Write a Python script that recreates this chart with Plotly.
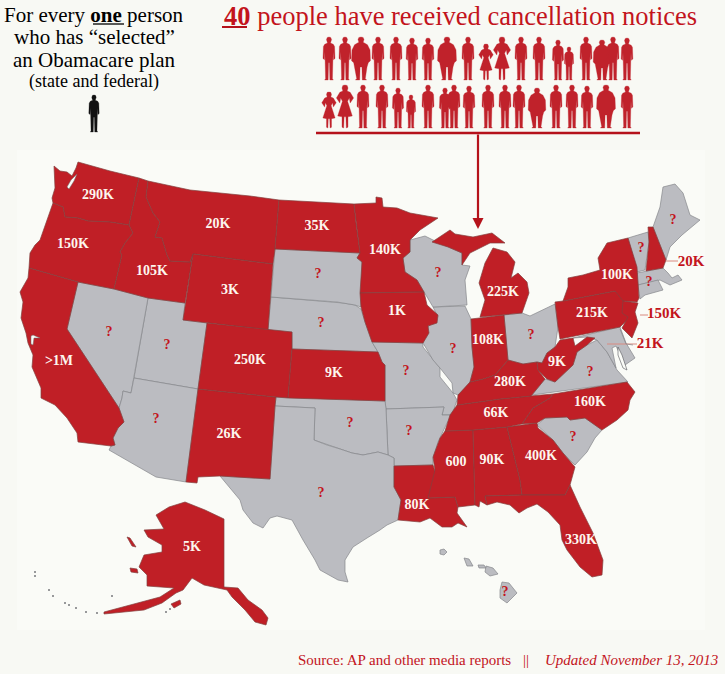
import plotly.graph_objects as go

RED = "#c01f26"
GRAY = "#bbbcc1"
TEXT_RED = "#c3141c"
SERIF = "Liberation Serif"

# state outlines
WA = [(54,166),(60,171),(67,172),(72,176),(76,168),(78,162),(110,171),(139,178),(129,225),(110,222),(88,221),(78,218),(65,217),(63,207),(53,203),(52,198),(55,188)]
OR = [(53,203),(63,207),(65,217),(78,218),(88,221),(110,222),(129,225),(133,233),(125,243),(120,252),(122,255),(114,289),(78,282),(29,268),(30,253),(35,245),(40,240),(46,222)]
ID = [(139,178),(148,181),(146,197),(153,213),(160,222),(155,237),(162,238),(167,255),(170,261),(190,262),(193,254),(185,303),(148,298),(114,289),(122,255),(120,252),(125,243),(133,233),(129,225)]
MT = [(148,181),(190,190),(250,196),(279,200),(275,249),(273,264),(193,254),(190,262),(170,261),(167,255),(162,238),(155,237),(160,222),(153,213),(146,197)]
WY = [(193,254),(273,264),(268,330),(207,323),(183,320)]
UT = [(148,298),(185,303),(183,320),(207,323),(198,389),(134,378)]
NV = [(78,282),(114,289),(148,298),(134,378),(131,393),(123,391),(122,398),(119,408),(67,329)]
CA = [(29,268),(78,282),(67,329),(119,408),(124,422),(118,428),(113,438),(115,445),(111,446),(78,442),(77,433),(67,418),(55,405),(41,398),(41,388),(32,367),(33,355),(28,343),(26,333),(21,318),(23,302),(20,292),(28,278)]
AZ = [(134,378),(198,389),(186,482),(156,477),(109,450),(111,446),(115,445),(113,438),(118,428),(124,422),(119,408),(122,398),(123,391),(131,393)]
NM = [(198,389),(276,397),(275,406),(270,479),(220,476),(198,477),(197,483),(186,482)]
CO = [(207,323),(268,330),(292,332),(292,349),(288,398),(276,397),(198,389)]
KS = [(292,349),(378,352),(382,362),(385,365),(385,401),(288,398)]
NE = [(271,297),(337,302),(343,303),(355,305),(361,309),(365,322),(372,342),(378,352),(292,349),(292,332),(268,330)]
SD = [(275,249),(360,253),(357,258),(362,262),(361,307),(355,305),(343,303),(337,302),(271,297)]
ND = [(279,200),(354,204),(356,223),(360,253),(275,249)]
MN = [(354,204),(376,203),(376,197),(382,198),(383,207),(397,208),(410,213),(422,215),(438,218),(420,230),(410,240),(410,252),(403,258),(405,272),(417,280),(424,292),(360,293),(362,262),(357,258),(360,253),(356,223)]
IA = [(360,293),(424,292),(427,305),(438,315),(437,323),(428,326),(429,333),(423,343),(372,342),(365,322),(361,307)]
MO = [(372,342),(423,343),(423,347),(433,360),(440,368),(440,377),(453,393),(457,400),(452,415),(442,415),(444,407),(386,409),(385,401),(385,365),(382,362),(378,352)]
AR = [(386,409),(444,407),(442,415),(452,415),(447,423),(438,442),(433,458),(433,465),(394,466),(394,458),(388,455)]
OK = [(276,397),(385,401),(386,409),(388,455),(378,452),(363,455),(352,453),(340,449),(327,445),(314,440),(315,408),(275,406)]
TX = [(275,406),(315,408),(314,440),(327,445),(340,449),(352,453),(363,455),(378,452),(388,455),(394,458),(394,466),(394,487),(401,500),(398,520),(387,525),(380,530),(367,538),(353,547),(345,560),(345,572),(348,582),(338,580),(320,570),(315,560),(303,540),(292,520),(277,516),(270,518),(263,528),(253,523),(243,510),(240,500),(220,476),(270,479)]
LA = [(394,466),(433,465),(437,477),(428,498),(455,497),(458,507),(457,513),(467,527),(458,523),(452,527),(442,527),(430,518),(420,522),(398,520),(401,500),(394,487)]
MS = [(445,431),(473,430),(475,505),(458,507),(455,497),(428,498),(435,470),(433,457),(440,438)]
AL = [(473,430),(507,427),(520,480),(522,495),(485,496),(487,505),(480,501),(479,507),(475,505)]
GA = [(507,427),(537,423),(538,428),(553,440),(563,453),(575,467),(570,485),(565,495),(522,495),(520,480)]
FL = [(485,496),(522,495),(565,495),(570,485),(580,507),(593,533),(603,560),(602,575),(592,577),(580,567),(567,550),(562,540),(560,525),(548,512),(537,504),(527,508),(519,513),(510,505),(497,502),(487,505)]
SC = [(537,425),(545,418),(567,417),(570,420),(585,418),(602,430),(595,438),(587,452),(575,465),(563,453),(553,440)]
NC = [(553,394),(627,382),(635,392),(630,400),(628,410),(617,420),(602,430),(585,418),(570,420),(567,417),(545,418),(537,423),(522,424),(533,408),(550,398)]
TN = [(457,405),(500,399),(530,396),(553,394),(550,398),(533,408),(522,424),(507,427),(473,430),(445,431),(450,415)]
KY = [(458,395),(465,388),(470,382),(483,379),(495,375),(508,360),(523,364),(537,362),(538,370),(545,379),(531,396),(500,399),(457,405)]
IN = [(471,319),(480,318),(504,315),(508,360),(495,375),(483,379),(470,382),(474,367),(472,347)]
IL = [(433,307),(465,306),(471,319),(472,347),(474,367),(470,382),(465,388),(458,395),(453,393),(452,383),(440,368),(433,360),(423,343),(428,327),(438,317)]
WI = [(410,240),(425,236),(433,240),(448,247),(462,253),(462,265),(470,266),(465,280),(467,305),(433,307),(424,292),(417,280),(405,272),(403,258),(410,252)]
MI_UP = [(432,242),(450,230),(455,234),(473,237),(492,233),(505,243),(490,243),(477,250),(470,253),(462,265),(462,253),(448,247)]
MI_LP = [(493,248),(507,252),(515,262),(511,278),(518,273),(527,282),(529,293),(522,313),(480,317),(485,300),(479,283),(485,263)]
OH = [(504,315),(522,313),(530,316),(542,310),(555,304),(558,327),(555,347),(547,353),(542,363),(537,362),(523,364),(508,360)]
WV = [(555,347),(560,340),(573,338),(575,346),(587,337),(595,338),(587,345),(577,352),(573,365),(555,382),(547,379),(538,370),(537,362),(542,363),(547,353)]
PA = [(555,302),(563,301),(615,291),(625,298),(623,307),(630,317),(620,327),(560,339),(558,327)]
NY = [(628,238),(637,267),(639,298),(637,302),(623,301),(615,291),(563,301),(568,287),(568,278),(583,275),(600,270),(598,258),(607,243)]
NJ = [(623,301),(638,303),(635,312),(638,323),(632,338),(622,328),(628,317),(622,313)]
VT = [(628,238),(648,232),(649,242),(645,270),(637,272)]
NH = [(648,227),(653,227),(666,260),(663,268),(646,271),(649,242)]
ME = [(653,227),(660,207),(663,187),(675,184),(683,193),(690,215),(700,220),(682,235),(670,247),(666,260)]
MA = [(637,273),(663,268),(668,273),(672,278),(678,275),(682,280),(670,285),(660,280),(638,285)]
CT = [(638,285),(658,280),(663,290),(645,295),(640,299)]
VA = [(532,395),(545,379),(555,382),(573,365),(577,352),(587,345),(597,340),(607,352),(617,370),(628,382)]
MD = [(573,338),(620,327),(626,343),(635,358),(625,365),(616,346),(612,348),(616,368),(607,352),(597,340),(587,337)]
AK = [(185,502),(205,510),(224,519),(224,587),(238,588),(248,600),(262,610),(268,618),(266,625),(255,622),(245,610),(232,597),(227,590),(204,585),(192,578),(183,590),(176,593),(162,603),(144,610),(125,612),(104,614),(104,612),(139,603),(160,597),(174,588),(157,587),(147,586),(147,575),(139,567),(144,555),(162,552),(162,545),(148,537),(144,530),(164,529),(156,515),(169,507)]
AK_ISLE1 = [(127,537),(130,538),(136,547),(132,546)]
AK_ISLE2 = [(130,568),(137,569),(138,573),(131,572)]
AK_ISLE3 = [(171,604),(180,600),(181,604),(174,608)]
HI_1 = [(500,590),(502,582),(509,583),(517,593),(507,603),(500,598)]
HI_2 = [(440,550),(444,549),(447,552),(444,555),(440,554)]
HI_3 = [(464,558),(469,559),(473,566),(467,566)]
HI_4 = [(486,566),(493,568),(498,574),(490,576),(485,572)]
HI_5 = [(478,565),(484,565),(486,568),(479,568)]

red_states = [WA, OR, ID, MT, WY, CA, NM, CO, KS, ND, MN, IA, LA, MS, AL, GA, FL, NC, TN, KY, IN, MI_UP, MI_LP, WV, PA, NY, NJ, NH, AK, AK_ISLE1, AK_ISLE2, AK_ISLE3]
gray_states = [UT, NV, AZ, NE, SD, MO, AR, OK, TX, SC, IL, WI, OH, VT, ME, MA, CT, VA, MD, HI_1, HI_2, HI_3, HI_4, HI_5]

# cancellation figures on the map
value_text = ["290K", "150K", "105K", "20K", "3K", "35K", "140K", "225K", "100K", "215K", "1K", "108K", "280K", "9K", "250K", "9K", ">1M", "26K", "66K", "160K", "600", "90K", "400K", "80K", "330K", "5K"]
value_x = [98, 73, 152, 218, 230, 317, 385, 503, 617, 592, 397, 488, 510, 557, 250, 334, 59, 229, 496, 590, 456, 492, 541, 417, 581, 192]
value_y = [195, 244, 271, 224, 290, 226, 250, 292, 275, 313, 311, 340, 382, 362, 360, 373, 361, 434, 413, 402, 462, 460, 456, 505, 540, 547]

unknown_x = [318, 321, 438, 453, 406, 109, 167, 156, 350, 409, 321, 531, 590, 573, 673, 641, 649, 505]
unknown_y = [274, 323, 273, 349, 371, 332, 345, 419, 423, 431, 493, 335, 372, 437, 220, 248, 282, 592]

outside_text = ["20K", "150K", "21K"]
outside_x = [691, 664, 650]
outside_y = [262, 314, 344]

# silhouettes, outlines in fractions of body height
MAN = [(0,0),(.04,.01),(.06,.06),(.05,.11),(.035,.14),(.1,.17),(.13,.22),(.14,.5),(.105,.53),(.095,.35),(.085,.55),(.08,.97),(.1,1),(.02,1),(.01,.6),(-.01,.6),(-.02,1),(-.1,1),(-.08,.97),(-.085,.55),(-.095,.35),(-.105,.53),(-.14,.5),(-.13,.22),(-.1,.17),(-.035,.14),(-.05,.11),(-.06,.06),(-.04,.01)]
WIDE = [(0,0),(.05,.01),(.07,.06),(.05,.12),(.15,.18),(.21,.3),(.22,.55),(.17,.6),(.14,.7),(.1,.97),(.13,1),(.03,1),(.02,.7),(-.02,.7),(-.03,1),(-.13,1),(-.1,.97),(-.14,.7),(-.17,.6),(-.22,.55),(-.21,.3),(-.15,.18),(-.05,.12),(-.07,.06),(-.05,.01)]
WOMAN = [(0,0),(.05,.01),(.07,.07),(.05,.14),(.12,.17),(.2,.3),(.12,.42),(.1,.3),(.06,.38),(.17,.72),(.07,.74),(.07,.98),(.03,1),(.02,.74),(-.02,.74),(-.03,1),(-.07,.98),(-.07,.74),(-.17,.72),(-.06,.38),(-.1,.3),(-.12,.42),(-.2,.3),(-.12,.17),(-.05,.14),(-.07,.07),(-.05,.01)]
shapes_by_name = {"m": MAN, "w": WIDE, "f": WOMAN}

row1_x = [329, 345, 361, 378, 396, 412, 428, 447, 468, 486, 502, 521, 539, 558, 569, 586, 602, 613, 627]
row1_kind = ["m", "m", "w", "m", "m", "m", "m", "w", "m", "f", "f", "m", "m", "m", "m", "m", "w", "m", "m"]
row1_height = [43, 43, 43, 43, 43, 42, 42, 43, 43, 36, 43, 43, 43, 40, 33, 43, 40, 43, 42]
row2_x = [329, 345, 363, 382, 398, 411, 428, 445, 454, 469, 488, 505, 519, 537, 556, 572, 587, 606, 627]
row2_kind = ["f", "f", "m", "m", "m", "m", "m", "m", "m", "m", "m", "m", "m", "w", "m", "m", "m", "w", "m"]
row2_height = [36, 43, 43, 43, 40, 33, 43, 40, 43, 42, 43, 43, 43, 40, 43, 43, 42, 43, 42]


def outline(points):
    xs = [p[0] for p in points] + [points[0][0], None]
    ys = [p[1] for p in points] + [points[0][1], None]
    return xs, ys


def add_region(fig, points, fill, edge, width=0.7):
    xs, ys = outline(points)
    fig.add_trace(go.Scatter(x=xs, y=ys, mode="lines", fill="toself", fillcolor=fill,
                             line=dict(color=edge, width=width), hoverinfo="skip", showlegend=False))


def add_people(fig, xs, kinds, heights, base, color):
    px, py = [], []
    for x0, kind, h in zip(xs, kinds, heights):
        ox, oy = outline(shapes_by_name[kind])
        px += [None if v is None else x0 + v * h for v in ox]
        py += [None if v is None else base - h + v * h for v in oy]
    fig.add_trace(go.Scatter(x=px, y=py, mode="lines", fill="toself", fillcolor=color,
                             line=dict(color=color, width=0.3), hoverinfo="skip", showlegend=False))


fig = go.Figure()

for st in gray_states:
    add_region(fig, st, GRAY, "#85868b")
for st in red_states:
    add_region(fig, st, RED, "#83403f")

# Puget Sound, San Francisco Bay, Chesapeake Bay
add_region(fig, [(77,174),(74,181),(69,189),(67,187),(71,180)], "#fafbf7", "#6b6b6b", 0.5)
add_region(fig, [(31,336),(33,335),(40,338),(34,338),(33,345),(31,344)], "#fafbf7", "#6b6b6b", 0.5)
add_region(fig, [(618,347),(622,355),(627,370),(623,368),(618,355)], "#fafbf7", "#55565a", 0.6)

# Aleutian specks
fig.add_trace(go.Scatter(x=[35, 35, 49, 53, 65, 69, 76, 86, 97, 112, 170, 166], y=[572, 576, 590, 596, 603, 605, 608, 612, 613, 596, 609, 612],
                         mode="markers", marker=dict(color="#77787c", size=2), hoverinfo="skip", showlegend=False))

add_people(fig, row1_x, row1_kind, row1_height, 80, "#c0222b")
add_people(fig, row2_x, row2_kind, row2_height, 128, "#c0222b")
add_people(fig, [94], ["m"], [37], 132, "#111111")

fig.add_trace(go.Scatter(x=value_x, y=value_y, mode="text", text=["<b>%s</b>" % t for t in value_text],
                         textfont=dict(family=SERIF, size=14, color="#fdf6ee"), hoverinfo="skip", showlegend=False))
fig.add_trace(go.Scatter(x=unknown_x, y=unknown_y, mode="text", text=["<b>?</b>"] * len(unknown_x),
                         textfont=dict(family=SERIF, size=14, color=TEXT_RED), hoverinfo="skip", showlegend=False))
fig.add_trace(go.Scatter(x=outside_x, y=outside_y, mode="text", text=["<b>%s</b>" % t for t in outside_text],
                         textfont=dict(family=SERIF, size=15, color=TEXT_RED), hoverinfo="skip", showlegend=False))


def note(x, y, text, size, color="black"):
    fig.add_annotation(x=x, y=y, text=text, showarrow=False, xanchor="center", yanchor="middle",
                       font=dict(family=SERIF, size=size, color=color))


note(94, 15, "For every <b>one</b> person", 21)
note(94, 37, "who has “selected”", 21)
note(94, 60, "an Obamacare plan", 21)
note(94, 81, "(state and federal)", 18)
note(460, 16, "<b>40</b> people have received cancellation notices", 26.5, TEXT_RED)
fig.add_annotation(x=296, y=660, text="Source: AP and other media reports", showarrow=False, xanchor="left",
                   font=dict(family=SERIF, size=15, color=TEXT_RED))
fig.add_annotation(x=526, y=660, text="||", showarrow=False, font=dict(family=SERIF, size=15, color=TEXT_RED))
fig.add_annotation(x=720, y=660, text="<i>Updated November 13, 2013</i>", showarrow=False, xanchor="right",
                   font=dict(family=SERIF, size=15, color=TEXT_RED))

# rule and arrow under the crowd
fig.add_annotation(x=478, y=229, ax=478, ay=133, xref="x", yref="y", axref="x", ayref="y", text="", showarrow=True,
                   arrowhead=2, arrowsize=1, arrowwidth=2.2, arrowcolor="#b5121b")

rules = [(316, 133, 640, 133, "#b5121b", 2.5), (222, 27, 247, 27, "#b5121b", 2), (93, 24, 124, 24, "#222222", 1.5),
         (666, 261, 678, 261, "#d98a80", 1), (640, 315, 648, 315, "#d98a80", 1), (607, 344, 637, 344, "#d98a80", 1),
         (620, 329, 626, 344, "#85868b", 0.7), (626, 344, 633, 345, "#85868b", 0.7)]
for x0, y0, x1, y1, c, w in rules:
    fig.add_shape(type="line", x0=x0, y0=y0, x1=x1, y1=y1, line=dict(color=c, width=w))

# the pasted-in panels are a touch lighter than the page
fig.add_shape(type="rect", x0=17, y0=150, x1=705, y1=630, fillcolor="#fafbf7", line_width=0, layer="below")

fig.update_xaxes(range=[0, 725], visible=False, fixedrange=True)
fig.update_yaxes(range=[674, 0], visible=False, fixedrange=True)
fig.update_layout(width=725, height=674, margin=dict(l=0, r=0, t=0, b=0), showlegend=False,
                  paper_bgcolor="#f8f9f4", plot_bgcolor="#f8f9f4")
fig.write_html("out.html", post_script="document.body.style.margin='0';", config={"displayModeBar": False})
